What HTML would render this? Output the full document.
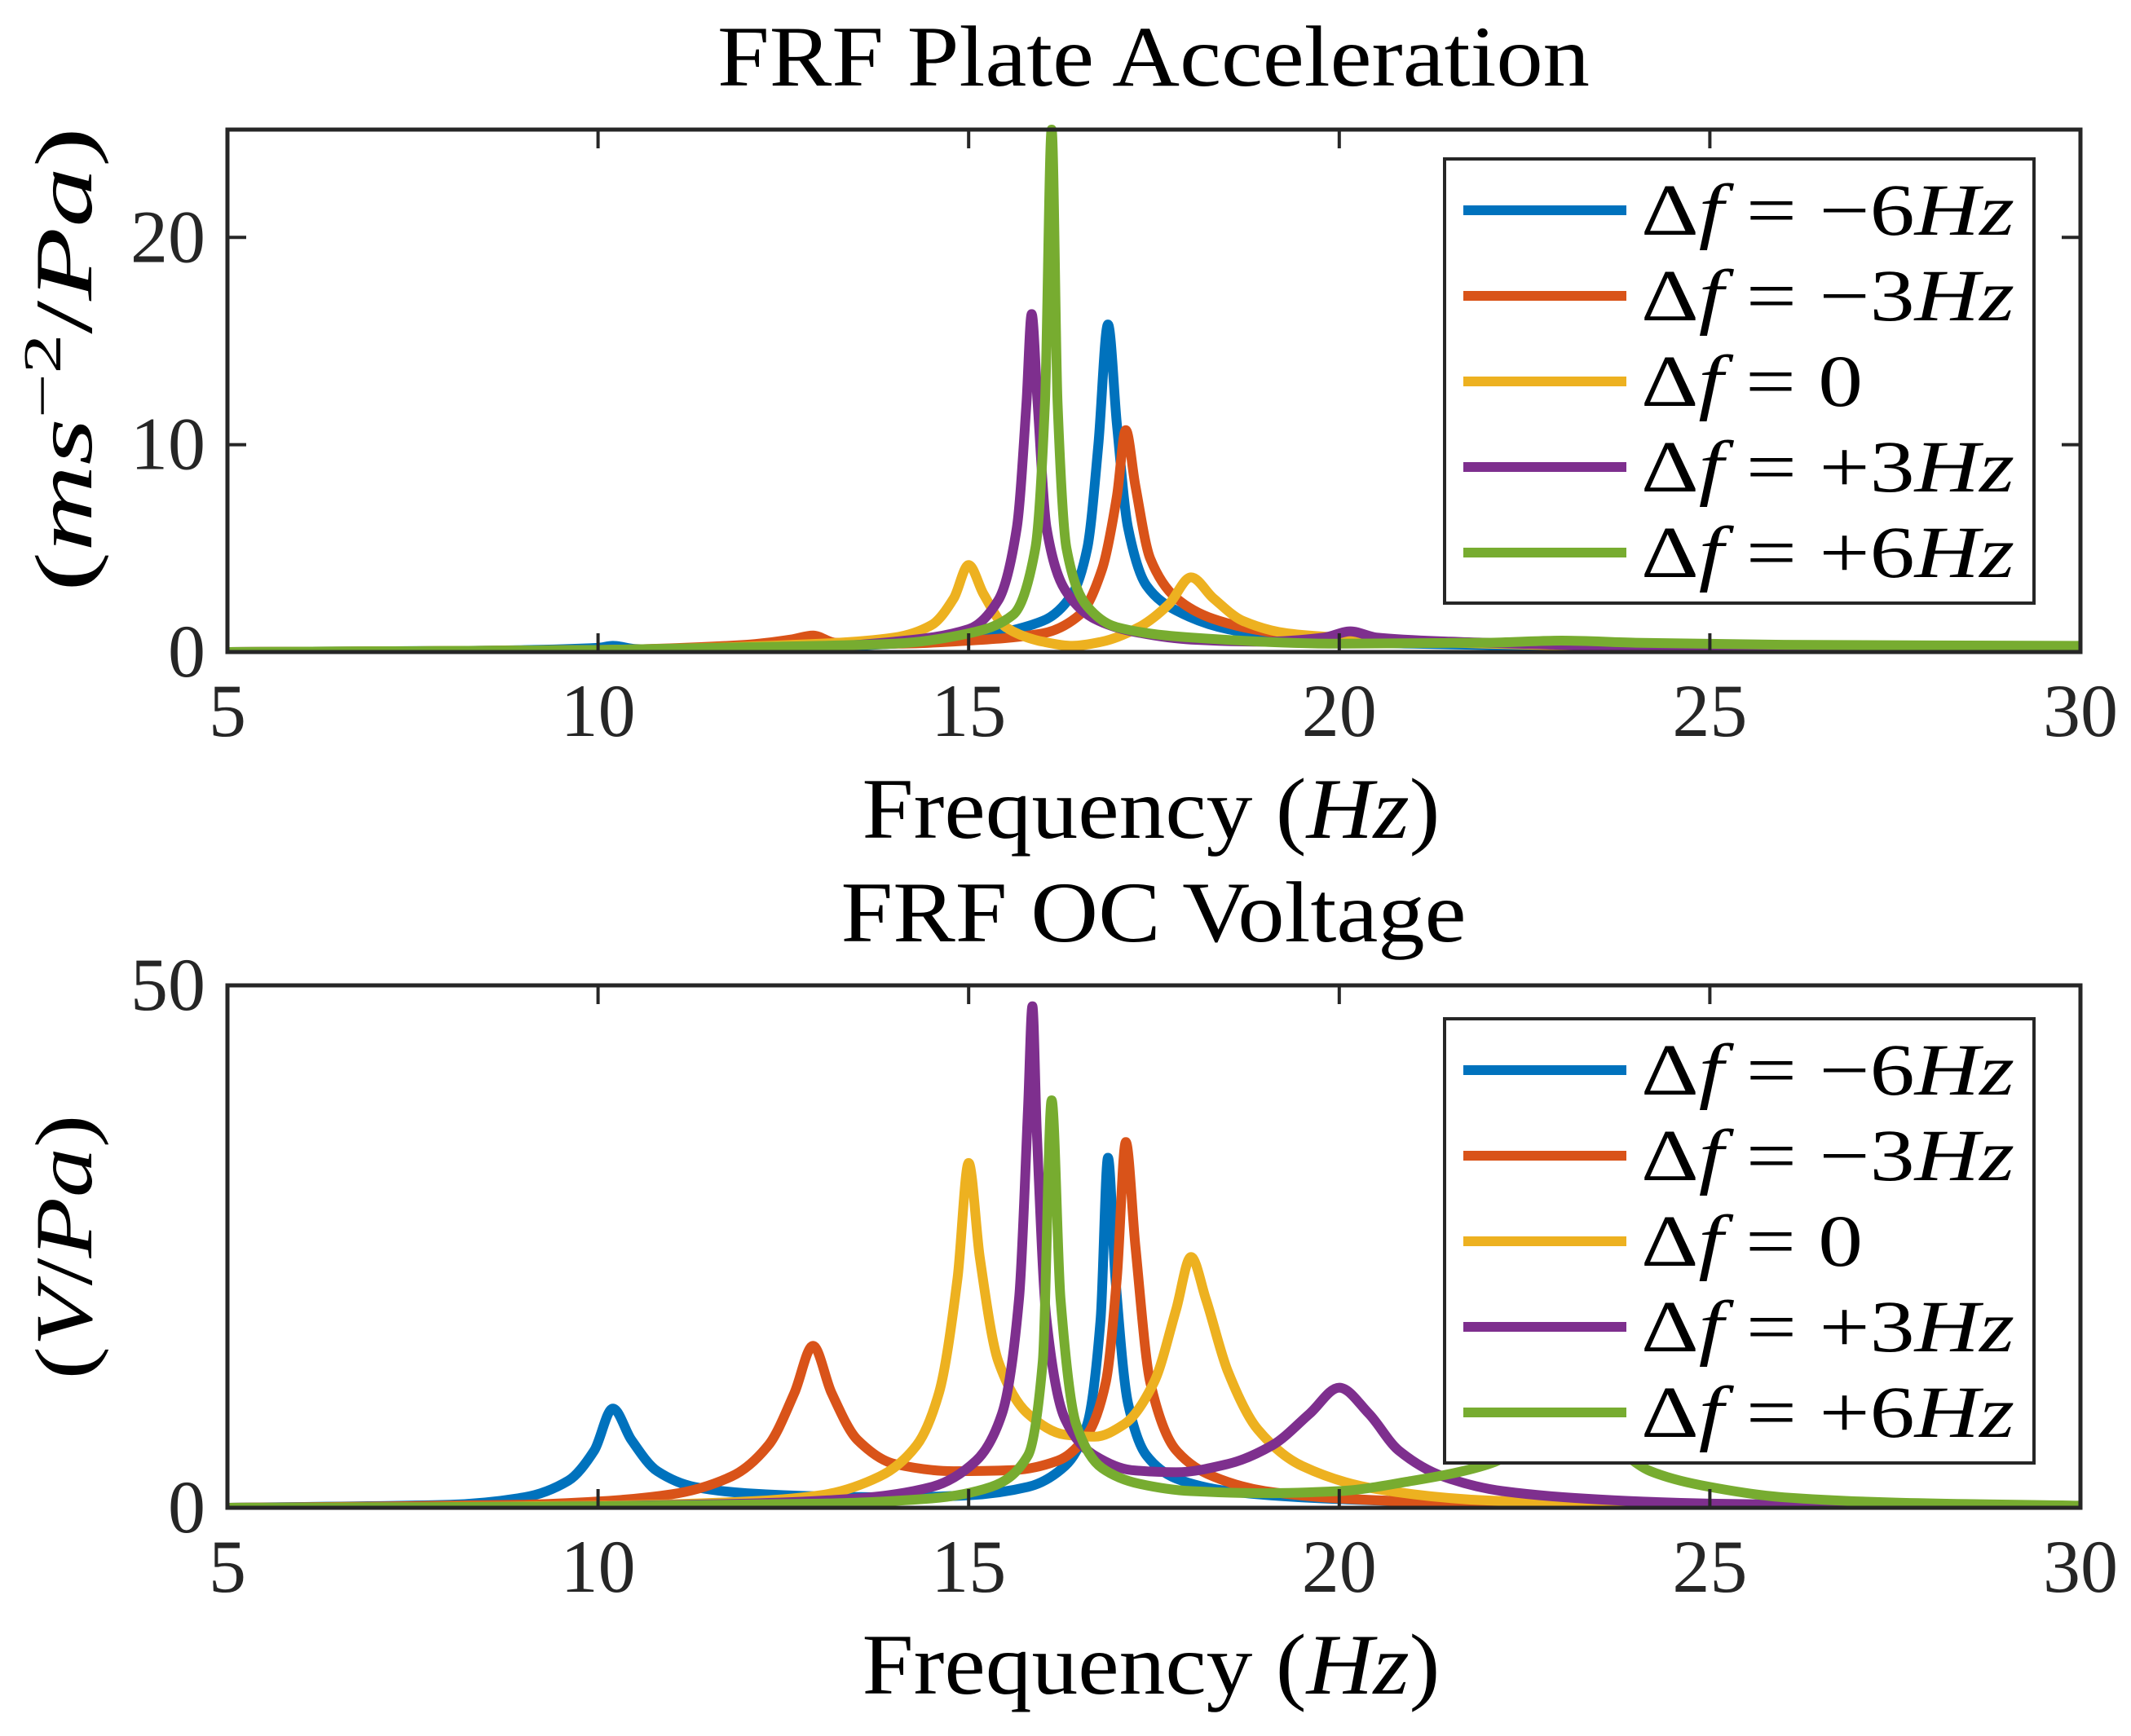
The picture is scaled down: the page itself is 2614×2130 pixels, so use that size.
<!DOCTYPE html>
<html><head><meta charset="utf-8"><style>
html,body{margin:0;padding:0;background:#fff}
svg{display:block}
text{font-family:"Liberation Serif",serif;fill:#000}
.tick{font-size:92px;fill:#262626}
.it{font-style:italic}
</style></head><body>
<svg id="fig" width="2614" height="2130" viewBox="0 0 2614 2130" xmlns="http://www.w3.org/2000/svg">
<rect width="2614" height="2130" fill="#fff"/>
<g id="ax1"></g>
<g id="ax2"></g>
</svg>
<script>
const NS="http://www.w3.org/2000/svg";
const colors=["#0072BD","#D95319","#EDB120","#7E2F8E","#77AC30"];
const seriesNames=["−6","−3","0","+3","+6"];
const xTicks=[5,10,15,20,25,30];
const yTicks1=[0,10,20];
const yTicks2=[0,50];

// Acceleration FRF (top)
const accBlueX=[5,8,10,10.2,10.5,11,13,14,15,16,16.4,16.6,16.75,16.88,17.0,17.15,17.4,17.8,18.5,19.5,21,25,30];
const accBlueY=[0,0.05,0.2,0.3,0.15,0.1,0.25,0.4,0.7,1.5,2.8,5,10,15.8,11,6,3.2,2,1.1,0.6,0.4,0.2,0.1];
const accOrangeX=[5,10,12,12.6,12.9,13.2,14,15,16,16.5,16.8,17.0,17.12,17.25,17.45,17.8,18.3,19,20,25,30];
const accOrangeY=[0,0.1,0.35,0.6,0.8,0.45,0.4,0.55,0.9,1.8,4,7.5,10.7,8,4.5,2.6,1.6,1,0.6,0.3,0.2];
const accYellowX=[5,10,13,14,14.5,14.8,15.0,15.2,15.5,16,16.4,16.8,17.3,17.7,18.0,18.3,18.7,19.3,20,22,25,30];
const accYellowY=[0,0.1,0.4,0.7,1.3,2.6,4.2,2.8,1.2,0.5,0.3,0.5,1.2,2.3,3.6,2.6,1.5,0.9,0.7,0.4,0.2,0.1];
const accPurpleX=[5,10,13,14,15,15.4,15.65,15.78,15.85,15.93,16.05,16.3,16.7,17.2,18,19,19.8,20.15,20.5,21.5,23,25,30];
const accPurpleY=[0,0.05,0.25,0.5,1.1,2.5,6,12,16.3,12,6,3,1.6,1,0.6,0.5,0.7,1,0.7,0.5,0.35,0.2,0.1];
const accGreenX=[5,10,13,14,15,15.6,15.9,16.03,16.12,16.2,16.32,16.6,17,18,20,22,23,24,26,30];
const accGreenY=[0,0.1,0.3,0.4,0.9,1.8,5,12,25.2,12,5,2.2,1.2,0.7,0.4,0.45,0.55,0.45,0.35,0.3];

// OC voltage FRF (bottom)
const vBlueX=[5,8,9,9.6,9.95,10.2,10.45,10.8,11.3,12,13,14,15,15.8,16.3,16.6,16.78,16.88,16.98,17.15,17.4,17.8,18.5,19.5,21,25,30];
const vBlueY=[0,0.3,1,2.6,5.5,9.5,6.5,3.5,2,1.4,1.1,1,1.2,2,4,8,18,33.5,22,10,5,2.8,1.6,1,0.6,0.2,0];
const vOrangeX=[5,9,10,11,11.8,12.3,12.65,12.9,13.15,13.5,14,14.8,15.6,16.2,16.6,16.85,17.0,17.12,17.25,17.45,17.8,18.3,19,20,22,25,30];
const vOrangeY=[0,0.3,0.6,1.3,3,6,11,15.5,11,6.5,4.2,3.5,3.6,4.5,7,12,22,35,25,12,5.5,3,1.6,0.9,0.4,0.15,0];
const vYellowX=[5,10,12,13,13.8,14.3,14.6,14.85,15.0,15.15,15.4,15.8,16.3,16.7,17.1,17.5,17.8,18.0,18.2,18.5,18.9,19.5,20.5,22,25,30];
const vYellowY=[0,0.2,0.6,1.2,3,6,11,22,33,24,14,9,7,6.8,8,12,19,24,20,13,7.5,4,1.8,0.7,0.2,0];
const vPurpleX=[5,10,12,13.5,14.5,15.1,15.45,15.68,15.8,15.86,15.92,16.05,16.3,16.7,17.2,17.8,18.5,19.1,19.6,20.0,20.4,20.8,21.4,22.2,23.5,25,30];
const vPurpleY=[0,0.15,0.4,0.9,2,4.5,9,20,38,48,36,18,8.5,5,3.6,3.4,4.2,6,9,11.5,9,5.5,3,1.6,0.8,0.4,0];
const vGreenX=[5,10,13,14.5,15.3,15.8,16.0,16.12,16.24,16.45,16.8,17.3,18,19,20,21,21.6,22.1,22.6,23.1,23.6,24.2,25,26,27.5,30];
const vGreenY=[0,0.15,0.4,0.9,2,5,14,39,20,8,3.8,2.3,1.6,1.4,1.6,2.6,3.4,4.4,6.5,8.5,6.5,3.5,2,1,0.5,0.2];

const accX=[accBlueX,accOrangeX,accYellowX,accPurpleX,accGreenX];
const accY=[accBlueY,accOrangeY,accYellowY,accPurpleY,accGreenY];
const vX=[vBlueX,vOrangeX,vYellowX,vPurpleX,vGreenX];
const vY=[vBlueY,vOrangeY,vYellowY,vPurpleY,vGreenY];

function mk(tag,attrs,parent,txt){const e=document.createElementNS(NS,tag);for(const k in attrs)e.setAttribute(k,attrs[k]);if(txt!==undefined)e.textContent=txt;parent.appendChild(e);return e;}

function monoPath(P){
  const n=P.length;if(n<2)return '';
  const dx=[],m=[],t=[];
  for(let i=0;i<n-1;i++){dx[i]=P[i+1][0]-P[i][0];m[i]=(P[i+1][1]-P[i][1])/dx[i];}
  t[0]=m[0];t[n-1]=m[n-2];
  for(let i=1;i<n-1;i++){
    if(m[i-1]*m[i]<=0)t[i]=0;
    else{const w1=2*dx[i]+dx[i-1],w2=dx[i]+2*dx[i-1];t[i]=(w1+w2)/(w1/m[i-1]+w2/m[i]);}
  }
  let d='M'+P[0][0].toFixed(1)+','+P[0][1].toFixed(1);
  for(let i=0;i<n-1;i++){
    const h=dx[i]/3;
    d+='C'+(P[i][0]+h).toFixed(1)+','+(P[i][1]+t[i]*h).toFixed(1)+' '+(P[i+1][0]-h).toFixed(1)+','+(P[i+1][1]-t[i+1]*h).toFixed(1)+' '+P[i+1][0].toFixed(1)+','+P[i+1][1].toFixed(1);
  }
  return d;
}

function drawAxes(g,o){
  const L=279,R=2552,T=o.top,B=o.top+641;
  const xs=v=>L+(v-5)/(30-5)*(R-L);
  const ys=v=>B-(v-o.ymin)/(o.ymax-o.ymin)*(B-T);
  const cp=mk('clipPath',{id:'clip'+o.id},g);
  mk('rect',{x:L,y:T-6,width:R-L,height:B-T+6},cp);
  const lines=mk('g',{'clip-path':'url(#clip'+o.id+')'},g);
  
  
  for(let s=0;s<5;s++){
    const X=o.xs[s],Y=o.ys[s];
    const P=X.map((x,i)=>[xs(x),ys(Y[i])]);
    const p=mk('path',{d:monoPath(P),fill:'none',stroke:colors[s],'stroke-width':12,'stroke-linejoin':'round','stroke-linecap':'round'},lines);
    
    
  }
  const box=mk('rect',{x:L,y:T,width:R-L,height:B-T,fill:'none',stroke:'#262626','stroke-width':5},g);
  
  
  xTicks.forEach(v=>{
    const x=xs(v);
    mk('line',{x1:x,y1:B,x2:x,y2:B-23,stroke:'#262626','stroke-width':4},g);
    mk('line',{x1:x,y1:T,x2:x,y2:T+23,stroke:'#262626','stroke-width':4},g);
    const t=mk('text',{x:x,y:B+103,'text-anchor':'middle',class:'tick'},g,String(v));
    
    
  });
  o.yticks.forEach(v=>{
    const y=ys(v);
    mk('line',{x1:L,y1:y,x2:L+23,y2:y,stroke:'#262626','stroke-width':4},g);
    mk('line',{x1:R,y1:y,x2:R-23,y2:y,stroke:'#262626','stroke-width':4},g);
    const t=mk('text',{x:252,y:y+30,'text-anchor':'end',class:'tick'},g,String(v));
    
    
  });
  const tt=mk('text',{x:1415,y:T-54,'text-anchor':'middle','font-size':106,textLength:o.titleW,lengthAdjust:'spacingAndGlyphs'},g,o.title);
  
  
  const xl=mk('text',{x:1412,y:B+228,'text-anchor':'middle','font-size':106,textLength:709,lengthAdjust:'spacingAndGlyphs'},g);
  
  
  mk('tspan',{},xl,'Frequency (');
  mk('tspan',{class:'it'},xl,'Hz');
  mk('tspan',{},xl,')');
  const yl=mk('text',{x:0,y:0,'text-anchor':'middle','font-size':100,transform:'translate(112,'+o.ylc+') rotate(-90)',textLength:o.ylw,lengthAdjust:'spacingAndGlyphs'},g);
  
  
  o.ylabel(yl);
  const LX=1772,LY=o.top+(o.id==1?36:41),LW=723,LH=545;
  const lg=mk('g',{},g);
  
  
  mk('rect',{x:LX,y:LY,width:LW,height:LH,fill:'#fff',stroke:'#262626','stroke-width':4},lg);
  for(let s=0;s<5;s++){
    const y=LY+63+s*105;
    const e=mk('g',{},lg);
    
    
    mk('line',{x1:1795,y1:y,x2:1995,y2:y,stroke:colors[s],'stroke-width':12},e);
    const t=mk('text',{x:2013,y:y+30,'font-size':90},e);
    mk('tspan',{},t,'Δ');
    mk('tspan',{class:'it'},t,'f');
    mk('tspan',{},t,' = '+seriesNames[s]);
    if(seriesNames[s]!=='0'){mk('tspan',{class:'it'},t,'Hz');t.setAttribute('textLength',458);t.setAttribute('lengthAdjust','spacingAndGlyphs');}
    else{t.setAttribute('textLength',272);t.setAttribute('lengthAdjust','spacingAndGlyphs');}
  }
}
drawAxes(document.getElementById('ax1'),{id:1,top:159,ymin:0,ymax:25.2,yticks:yTicks1,xs:accX,ys:accY,title:'FRF Plate Acceleration',titleW:1070,ylc:441,ylw:570,
  ylabel:t=>{mk('tspan',{},t,'(');mk('tspan',{class:'it'},t,'ms');mk('tspan',{dy:-38,'font-size':66},t,'−2');mk('tspan',{dy:38},t,'/');mk('tspan',{class:'it'},t,'Pa');mk('tspan',{},t,')');}});
drawAxes(document.getElementById('ax2'),{id:2,top:1209,ymin:0,ymax:50,yticks:yTicks2,xs:vX,ys:vY,title:'FRF OC Voltage',titleW:767,ylc:1530,ylw:325,
  ylabel:t=>{mk('tspan',{},t,'(');mk('tspan',{class:'it'},t,'V');mk('tspan',{},t,'/');mk('tspan',{class:'it'},t,'Pa');mk('tspan',{},t,')');}});
</script>
</body></html>
